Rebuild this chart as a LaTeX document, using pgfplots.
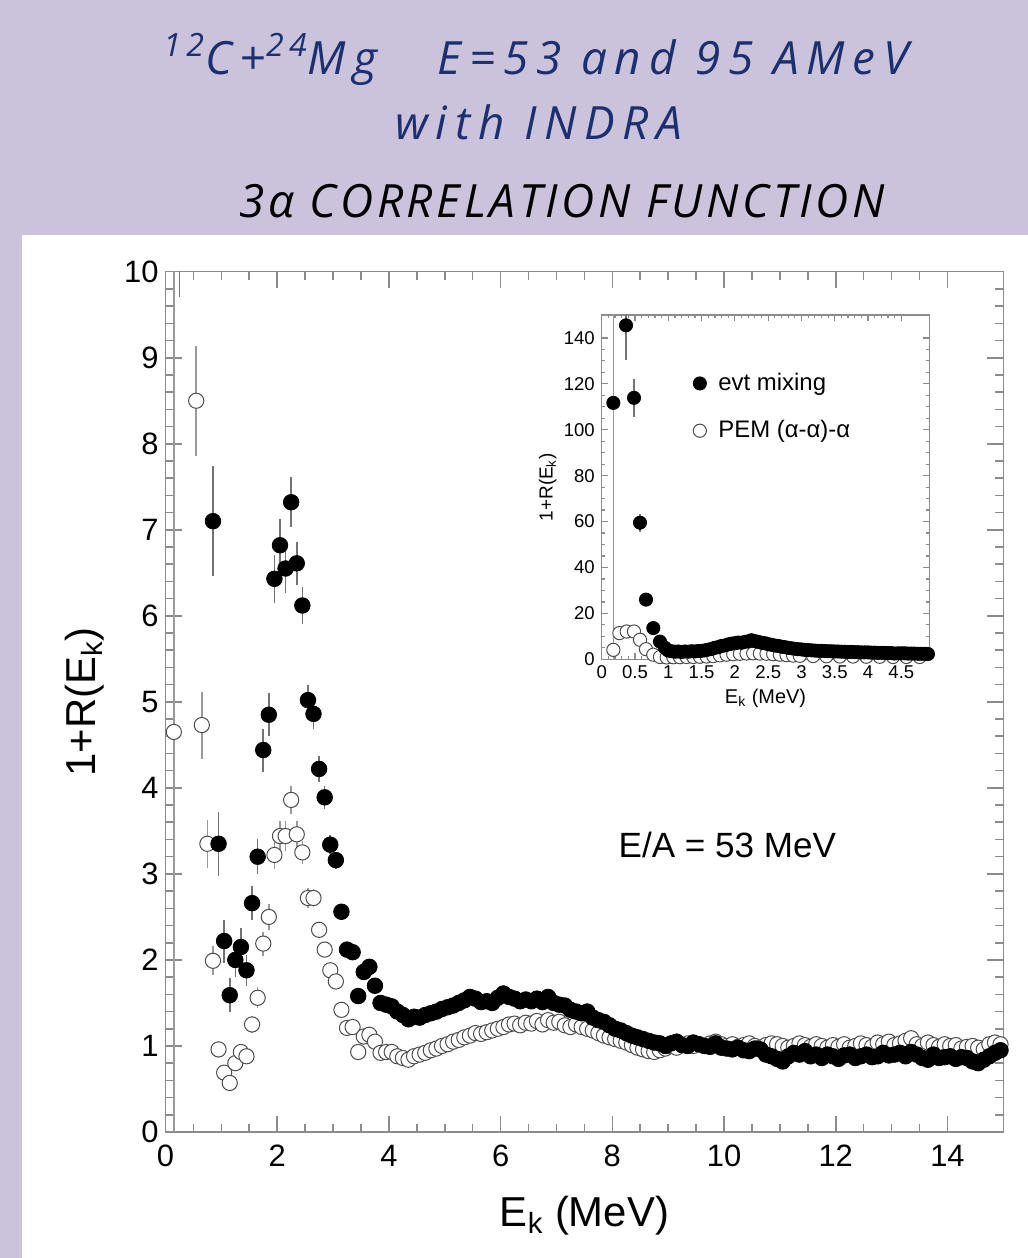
\documentclass[border=0pt]{standalone}
\usepackage{pgfplots}
\pgfplotsset{compat=1.18}
\usepackage{pgfplotstable}
\usepackage{fontspec}
\setmainfont{Liberation Sans}
\newfontfamily\titlefontA{Open Sans}[LetterSpace=17]
\newfontfamily\titlefontB{Open Sans}[LetterSpace=8]
\definecolor{lav}{HTML}{CBC2DC}
\definecolor{navy}{HTML}{1C2F6E}
\definecolor{axgray}{HTML}{8C8C8C}
\definecolor{errgray}{HTML}{9A9A9A}

\pgfplotstableread{
x y e
0.25 12.0 2.3
0.85 7.10 0.64
0.95 3.35 0.37
1.05 2.22 0.25
1.15 1.59 0.20
1.25 2.00 0.20
1.35 2.15 0.22
1.45 1.88 0.18
1.55 2.66 0.20
1.65 3.20 0.20
1.75 4.44 0.25
1.85 4.85 0.25
1.95 6.43 0.28
2.05 6.82 0.30
2.15 6.55 0.28
2.25 7.32 0.29
2.35 6.61 0.25
2.45 6.12 0.22
2.55 5.02 0.18
2.65 4.86 0.17
2.75 4.22 0.15
2.85 3.89 0.13
2.95 3.34 0.11
3.05 3.16 0.10
3.15 2.56 0.08
3.25 2.12 0.07
3.35 2.09 0.07
3.45 1.58 0.05
3.55 1.86 0.05
3.65 1.92 0.05
3.75 1.70 0
3.85 1.50 0
3.95 1.48 0
4.05 1.46 0
4.15 1.40 0
4.25 1.36 0
4.35 1.31 0
4.45 1.34 0
4.55 1.33 0
4.65 1.36 0
4.75 1.38 0
4.85 1.40 0
4.95 1.43 0
5.05 1.45 0
5.15 1.47 0
5.25 1.50 0
5.35 1.53 0
5.45 1.57 0
5.55 1.55 0
5.65 1.51 0
5.75 1.52 0
5.85 1.50 0
5.95 1.56 0
6.05 1.61 0
6.15 1.57 0
6.25 1.55 0
6.35 1.52 0
6.45 1.54 0
6.55 1.52 0
6.65 1.55 0
6.75 1.51 0
6.85 1.57 0
6.95 1.50 0
7.05 1.48 0
7.15 1.47 0
7.25 1.42 0
7.35 1.40 0
7.45 1.38 0
7.55 1.40 0
7.65 1.33 0
7.75 1.30 0
7.85 1.28 0
7.95 1.24 0
8.05 1.20 0
8.15 1.18 0
8.25 1.15 0
8.35 1.12 0
8.45 1.10 0
8.55 1.08 0
8.65 1.06 0
8.75 1.04 0
8.85 1.03 0
8.95 1.00 0
9.05 1.03 0
9.15 1.05 0
9.25 1.01 0
9.35 1.00 0
9.45 1.04 0
9.55 1.02 0
9.65 1.00 0
9.75 0.99 0
9.85 1.03 0
9.95 0.98 0
10.05 0.97 0
10.15 0.96 0
10.25 0.98 0
10.35 0.95 0
10.45 0.94 0
10.55 0.97 0
10.65 0.96 0
10.75 0.90 0
10.85 0.88 0
10.95 0.85 0
11.05 0.82 0
11.15 0.88 0
11.25 0.92 0
11.35 0.90 0
11.45 0.94 0
11.55 0.88 0
11.65 0.90 0
11.75 0.86 0
11.85 0.90 0
11.95 0.88 0
12.05 0.85 0
12.15 0.89 0
12.25 0.90 0
12.35 0.86 0
12.45 0.88 0
12.55 0.90 0
12.65 0.87 0
12.75 0.88 0
12.85 0.92 0
12.95 0.89 0
13.05 0.90 0
13.15 0.92 0
13.25 0.88 0
13.35 0.93 0
13.45 0.90 0
13.55 0.86 0
13.65 0.84 0
13.75 0.90 0
13.85 0.86 0
13.95 0.87 0
14.05 0.88 0
14.15 0.85 0
14.25 0.87 0
14.35 0.86 0
14.45 0.82 0
14.55 0.80 0
14.65 0.84 0
14.75 0.88 0
14.85 0.92 0
14.95 0.95 0
}\evtmain

\pgfplotstableread{
x y e
0.15 4.65 6
0.55 8.50 0.64
0.65 4.73 0.39
0.75 3.35 0.28
0.85 1.99 0.17
0.95 0.96 0.10
1.05 0.69 0.08
1.15 0.57 0.07
1.25 0.80 0.07
1.35 0.93 0.08
1.45 0.88 0.08
1.55 1.25 0.10
1.65 1.56 0.12
1.75 2.19 0.14
1.85 2.50 0.15
1.95 3.22 0.16
2.05 3.44 0.17
2.15 3.44 0.17
2.25 3.86 0.16
2.35 3.46 0.15
2.45 3.25 0.13
2.55 2.72 0.12
2.65 2.72 0.11
2.75 2.35 0.09
2.85 2.12 0.08
2.95 1.88 0.07
3.05 1.75 0.06
3.15 1.42 0.05
3.25 1.21 0
3.35 1.22 0
3.45 0.93 0
3.55 1.11 0
3.65 1.13 0
3.75 1.05 0
3.85 0.92 0
3.95 0.93 0
4.05 0.93 0
4.15 0.88 0
4.25 0.86 0
4.35 0.84 0
4.45 0.88 0
4.55 0.90 0
4.65 0.92 0
4.75 0.95 0
4.85 0.97 0
4.95 1.00 0
5.05 1.02 0
5.15 1.05 0
5.25 1.07 0
5.35 1.10 0
5.45 1.12 0
5.55 1.15 0
5.65 1.14 0
5.75 1.16 0
5.85 1.18 0
5.95 1.20 0
6.05 1.22 0
6.15 1.25 0
6.25 1.26 0
6.35 1.24 0
6.45 1.27 0
6.55 1.26 0
6.65 1.29 0
6.75 1.25 0
6.85 1.30 0
6.95 1.27 0
7.05 1.28 0
7.15 1.24 0
7.25 1.22 0
7.35 1.25 0
7.45 1.22 0
7.55 1.20 0
7.65 1.18 0
7.75 1.15 0
7.85 1.12 0
7.95 1.10 0
8.05 1.08 0
8.15 1.06 0
8.25 1.04 0
8.35 1.01 0
8.45 0.98 0
8.55 0.96 0
8.65 0.94 0
8.75 0.93 0
8.85 0.95 0
8.95 0.97 0
9.05 1.00 0
9.15 0.98 0
9.25 1.01 0
9.35 1.03 0
9.45 1.00 0
9.55 1.02 0
9.65 1.00 0
9.75 1.03 0
9.85 1.05 0
9.95 1.02 0
10.05 1.00 0
10.15 1.02 0
10.25 0.99 0
10.35 1.01 0
10.45 1.03 0
10.55 1.00 0
10.65 0.98 0
10.75 1.01 0
10.85 1.03 0
10.95 1.02 0
11.05 1.00 0
11.15 0.98 0
11.25 1.00 0
11.35 1.03 0
11.45 1.01 0
11.55 0.99 0
11.65 1.02 0
11.75 1.00 0
11.85 0.98 0
11.95 1.01 0
12.05 0.99 0
12.15 1.02 0
12.25 0.98 0
12.35 1.00 0
12.45 1.03 0
12.55 1.01 0
12.65 0.99 0
12.75 1.04 0
12.85 1.02 0
12.95 1.05 0
13.05 1.01 0
13.15 1.03 0
13.25 1.06 0
13.35 1.09 0
13.45 1.02 0
13.55 1.00 0
13.65 1.04 0
13.75 1.01 0
13.85 0.99 0
13.95 1.02 0
14.05 1.00 0
14.15 1.01 0
14.25 0.97 0
14.35 0.99 0
14.45 1.00 0
14.55 0.98 0
14.65 0.96 0
14.75 1.02 0
14.85 1.04 0
14.95 1.02 0
}\pemmain

\pgfplotstableread{
x y e
0.175 111.7 0
0.365 145.5 15
0.485 113.9 8.4
0.575 59.5 4
0.665 26.0 2
0.775 13.6 1
0.875 7.7 0.5
0.95 5.0 0
1.00 3.8 0
1.05 3.5 0
1.10 3.3 0
1.15 3.4 0
1.20 3.2 0
1.25 3.4 0
1.30 3.3 0
1.35 3.5 0
1.40 3.4 0
1.45 3.6 0
1.50 3.7 0
1.55 3.9 0
1.60 4.2 0
1.65 4.5 0
1.70 5.0 0
1.75 5.3 0
1.80 5.8 0
1.85 6.0 0
1.90 6.5 0
1.95 6.8 0
2.00 7.0 0
2.05 7.3 0
2.10 7.2 0
2.15 7.6 0
2.20 7.8 0
2.25 8.3 0
2.30 7.9 0
2.35 7.6 0
2.40 7.2 0
2.45 7.0 0
2.50 6.6 0
2.55 6.3 0
2.60 6.0 0
2.65 5.8 0
2.70 5.5 0
2.75 5.3 0
2.80 5.0 0
2.85 4.8 0
2.90 4.6 0
2.95 4.4 0
3.00 4.3 0
3.05 4.1 0
3.10 4.0 0
3.15 3.9 0
3.20 3.8 0
3.25 3.7 0
3.30 3.7 0
3.35 3.6 0
3.40 3.5 0
3.45 3.5 0
3.50 3.4 0
3.55 3.4 0
3.60 3.3 0
3.65 3.3 0
3.70 3.2 0
3.75 3.2 0
3.80 3.1 0
3.85 3.1 0
3.90 3.0 0
3.95 3.0 0
4.00 3.0 0
4.05 2.9 0
4.10 2.9 0
4.15 2.8 0
4.20 2.8 0
4.25 2.8 0
4.30 2.7 0
4.35 2.7 0
4.40 2.5 0
4.45 2.6 0
4.50 2.6 0
4.55 2.6 0
4.60 2.5 0
4.65 2.5 0
4.70 2.5 0
4.75 2.4 0
4.80 2.4 0
4.85 2.4 0
4.90 2.3 0
}\evtinset

\pgfplotstableread{
x y e
0.175 4.1 300
0.265 11.4 0
0.375 12.1 0
0.485 12.1 0
0.575 8.5 0
0.665 4.4 0
0.775 2.0 0
0.875 1.0 0
0.975 0.8 0
1.075 0.9 0
1.175 0.9 0
1.275 1.0 0
1.375 1.0 0
1.475 1.1 0
1.575 1.2 0
1.675 1.4 0
1.775 1.7 0
1.875 2.0 0
1.975 2.2 0
2.075 2.4 0
2.175 2.5 0
2.275 2.6 0
2.375 2.5 0
2.475 2.4 0
2.575 2.2 0
2.675 2.0 0
2.775 1.8 0
2.875 1.6 0
2.975 1.5 0
3.175 1.4 0
3.375 1.3 0
3.575 1.2 0
3.775 1.2 0
3.975 1.1 0
4.175 1.1 0
4.375 1.0 0
4.575 1.0 0
4.775 1.0 0
}\peminset

\begin{document}
\begin{tikzpicture}
\fill[lav] (0bp,0bp) rectangle (514bp,629bp);
\fill[white] (11bp,0bp) rectangle (514bp,511.5bp);
\node[navy, font=\titlefontA\itshape\fontsize{23}{27}\selectfont, anchor=base, inner sep=0] at (268bp,591.5bp) {\textsuperscript{12}C+\textsuperscript{24}Mg\hspace{30bp}E=53 and 95 AMeV};
\node[navy, font=\titlefontA\itshape\fontsize{23}{27}\selectfont, anchor=base, inner sep=0] at (269.5bp,559bp) {with INDRA};
\node[black, font=\titlefontB\itshape\fontsize{23}{27}\selectfont, anchor=base, inner sep=0] at (281bp,520bp) {3α CORRELATION FUNCTION};

\begin{axis}[
  at={(82.75bp,63bp)}, anchor=south west,
  width=418.9bp, height=430.15bp, scale only axis,
  xmin=0, xmax=15, ymin=0, ymax=10,
  xtick={0,2,...,14}, minor x tick num=3,
  ytick={0,1,...,10}, minor y tick num=4,
  tick align=inside, xtick pos=both, ytick pos=both,
  major tick length=8bp, minor tick length=4bp,
  axis line style={axgray, line width=0.8bp},
  every tick/.style={axgray, line width=0.8bp},
  tick label style={font=\fontsize{15.5}{18}\selectfont},
  xticklabel style={yshift=-3bp},
  /pgf/number format/assume math mode=true,
  xlabel={E\textsubscript{k} (MeV)},
  ylabel={1+R(E\textsubscript{k})},
  label style={font=\fontsize{21}{25}\selectfont},
  xlabel style={at={(axis description cs:0.5,-0.097)}, anchor=center},
  ylabel style={at={(axis description cs:-0.096,0.5)}, anchor=center},
  clip=true,
]
\addplot[only marks, mark=*, mark size=3.8bp,
  mark options={draw=black!70, fill=white, line width=0.5bp},
  error bars/.cd, y dir=both, y explicit,
  error bar style={errgray, line width=0.8bp}, error mark=none]
  table[x=x, y=y, y error=e] {\pemmain};
\addplot[only marks, mark=*, mark size=3.9bp,
  mark options={draw=black, fill=black},
  error bars/.cd, y dir=both, y explicit,
  error bar style={black!55, line width=0.8bp}, error mark=none]
  table[x=x, y=y, y error=e] {\evtmain};
\node[font=\fontsize{17.6}{21}\selectfont] at (axis cs:10.06,3.34) {E/A = 53 MeV};
\end{axis}

\begin{axis}[
  at={(300.85bp,299.35bp)}, anchor=south west,
  width=163.8bp, height=172.15bp, scale only axis,
  axis background/.style={fill=white},
  xmin=0, xmax=4.92, ymin=0, ymax=150,
  xtick={0,0.5,...,4.5}, minor x tick num=4,
  ytick={0,20,...,140}, minor y tick num=3,
  xticklabels={0,0.5,1,1.5,2,2.5,3,3.5,4,4.5},
  tick align=inside, xtick pos=both, ytick pos=both,
  major tick length=3bp, minor tick length=1.6bp,
  axis line style={axgray, line width=0.7bp},
  every tick/.style={axgray, line width=0.6bp},
  tick label style={font=\fontsize{9.3}{11}\selectfont},
  xticklabel style={yshift=0.5bp},
  /pgf/number format/assume math mode=true,
  xlabel={E\textsubscript{k} (MeV)},
  ylabel={1+R(E\textsubscript{k})},
  xlabel style={font=\fontsize{10}{12}\selectfont, at={(axis description cs:0.5,-0.113)}, anchor=center},
  ylabel style={font=\fontsize{9.5}{11}\selectfont, at={(axis description cs:-0.165,0.5)}, anchor=center},
  reverse legend,
  legend style={draw=none, fill=none, at={(axis description cs:0.26,0.855)}, anchor=north west,
    font=\fontsize{12}{14}\selectfont, row sep=9.5bp},
  legend cell align=left,
  clip=true,
]
\addplot[only marks, mark=*, mark size=3.3bp,
  mark options={draw=black!70, fill=white, line width=0.5bp},
  error bars/.cd, y dir=both, y explicit,
  error bar style={errgray, line width=0.7bp}, error mark=none]
  table[x=x, y=y, y error=e] {\peminset};
\addlegendentry{\hspace{4bp}PEM (α-α)-α}
\addplot[only marks, mark=*, mark size=3.3bp,
  mark options={draw=black, fill=black},
  error bars/.cd, y dir=both, y explicit,
  error bar style={black!55, line width=0.7bp}, error mark=none]
  table[x=x, y=y, y error=e] {\evtinset};
\addlegendentry{\hspace{4bp}evt mixing}
\end{axis}
\end{tikzpicture}
\end{document}
